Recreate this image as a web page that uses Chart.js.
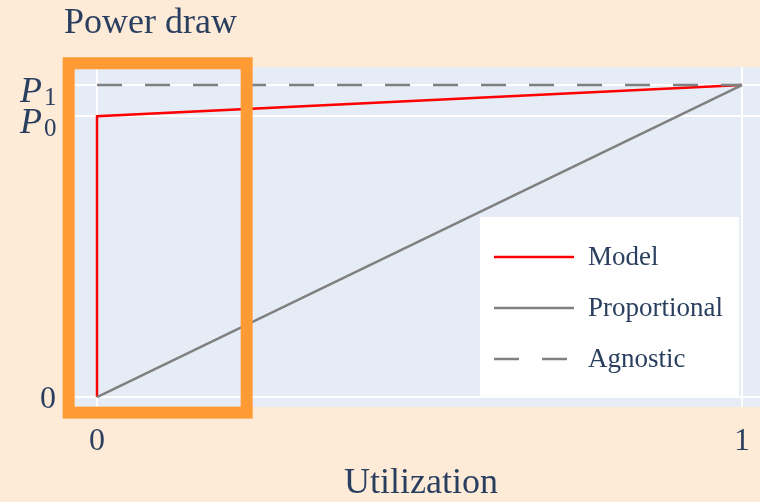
<!DOCTYPE html>
<html lang="en">
<head>
<meta charset="UTF-8" />
<title>Power draw</title>
<script src="https://cdn.jsdelivr.net/npm/chart.js"></script>
<style>
  html, body { margin: 0; padding: 0; background: #fdebd7; }
  canvas { display: block; }
</style>
</head>
<body>
<canvas id="chart" width="760" height="502"></canvas>
<script>
  // data (P1 taken as 1)
  const modelX = [0, 0, 1];
  const modelY = [0, 0.9, 1];
  const propX = [0, 1];
  const propY = [0, 1];
  const agnosticX = [0, 1];
  const agnosticY = [1, 1];

  const xTicks = [0, 1];
  const xTickLabels = ['0', '1'];
  const yTicks = [0, 0.9, 1];
  const yTickLabels = ['0', 'P_0', 'P_1'];

  // highlighted region, in data units: x0, x1, y0, y1
  const highlightBox = [-0.044, 0.232, -0.05, 1.07];

  const textColor = '#2a3f5f';
  const serif = '"Liberation Serif", "Times New Roman", serif';

  const pts = (xs, ys) => xs.map((x, i) => ({ x: x, y: ys[i] }));

  const decor = {
    id: 'decor',
    beforeDraw(chart) {
      const ctx = chart.ctx, a = chart.chartArea;
      ctx.save();
      ctx.fillStyle = '#fdebd7';
      ctx.fillRect(0, 0, chart.width, chart.height);
      ctx.fillStyle = '#e5ecf6';
      ctx.fillRect(a.left, a.top, a.right - a.left, a.bottom - a.top);
      ctx.restore();
    },
    afterDraw(chart) {
      const ctx = chart.ctx, a = chart.chartArea;
      const xs = chart.scales.x, ys = chart.scales.y;
      ctx.save();
      ctx.fillStyle = textColor;

      // title
      ctx.font = '36px ' + serif;
      ctx.textAlign = 'left';
      ctx.textBaseline = 'alphabetic';
      ctx.fillText('Power draw', 64, 33);

      // x title
      ctx.textAlign = 'center';
      ctx.fillText('Utilization', 421, 493);

      // x tick labels
      ctx.font = '32px ' + serif;
      xTicks.forEach((v, i) => {
        ctx.fillText(xTickLabels[i], xs.getPixelForValue(v), 450);
      });

      // y tick labels
      yTicks.forEach((v, i) => {
        const y = ys.getPixelForValue(v);
        const lab = yTickLabels[i];
        if (lab.indexOf('_') < 0) {
          ctx.font = '32px ' + serif;
          ctx.textAlign = 'right';
          ctx.fillText(lab, 56, y + 11);
        } else {
          const parts = lab.split('_');
          ctx.textAlign = 'left';
          ctx.font = 'italic 36px ' + serif;
          ctx.fillText(parts[0], 20, y + 17);
          ctx.font = '25px ' + serif;
          ctx.fillText(parts[1], 44, y + 20);
        }
      });

      // legend
      const lx = 480, ly = 217, lw = 259, lh = 179;
      ctx.fillStyle = '#ffffff';
      ctx.fillRect(lx, ly, lw, lh);
      ctx.font = '27px ' + serif;
      ctx.textAlign = 'left';
      ctx.textBaseline = 'middle';
      chart.data.datasets.forEach((ds, i) => {
        const yy = 257 + i * 51;
        ctx.strokeStyle = ds.borderColor;
        ctx.lineWidth = ds.borderWidth;
        ctx.setLineDash(ds.borderDash || []);
        ctx.beginPath();
        ctx.moveTo(494, yy);
        ctx.lineTo(574, yy);
        ctx.stroke();
        ctx.fillStyle = textColor;
        ctx.fillText(ds.label, 588, yy + 1);
      });
      ctx.setLineDash([]);

      // orange highlight box
      const bx0 = xs.getPixelForValue(highlightBox[0]);
      const bx1 = xs.getPixelForValue(highlightBox[1]);
      const by0 = ys.getPixelForValue(highlightBox[2]);
      const by1 = ys.getPixelForValue(highlightBox[3]);
      ctx.strokeStyle = '#ff9a35';
      ctx.lineWidth = 12;
      ctx.strokeRect(bx0, by1, bx1 - bx0, by0 - by1);
      ctx.restore();
    }
  };

  new Chart(document.getElementById('chart'), {
    type: 'scatter',
    data: {
      datasets: [
        {
          label: 'Model',
          data: pts(modelX, modelY),
          borderColor: '#ff0000',
          borderWidth: 2.5,
          showLine: true,
          pointRadius: 0,
          order: 2
        },
        {
          label: 'Proportional',
          data: pts(propX, propY),
          borderColor: '#808080',
          borderWidth: 2.5,
          showLine: true,
          pointRadius: 0,
          order: 1
        },
        {
          label: 'Agnostic',
          data: pts(agnosticX, agnosticY),
          borderColor: '#808080',
          borderWidth: 2.5,
          borderDash: [25, 23],
          showLine: true,
          pointRadius: 0,
          order: 0
        }
      ]
    },
    options: {
      responsive: false,
      animation: false,
      devicePixelRatio: 1,
      layout: { padding: { top: 67, left: 0, right: 0, bottom: 0 } },
      plugins: { legend: { display: false }, tooltip: { enabled: false } },
      scales: {
        x: {
          type: 'linear',
          min: -0.0357,
          max: 1.028,
          afterBuildTicks: s => { s.ticks = xTicks.map(v => ({ value: v })); },
          afterFit: s => { s.height = 95; },
          ticks: { display: false },
          grid: { color: '#ffffff', lineWidth: 2, drawTicks: false },
          border: { display: false }
        },
        y: {
          type: 'linear',
          min: -0.032,
          max: 1.058,
          afterBuildTicks: s => { s.ticks = yTicks.map(v => ({ value: v })); },
          afterFit: s => { s.width = 74; },
          ticks: { display: false },
          grid: { color: '#ffffff', lineWidth: 2, drawTicks: false },
          border: { display: false }
        }
      }
    },
    plugins: [decor]
  });
</script>
</body>
</html>
